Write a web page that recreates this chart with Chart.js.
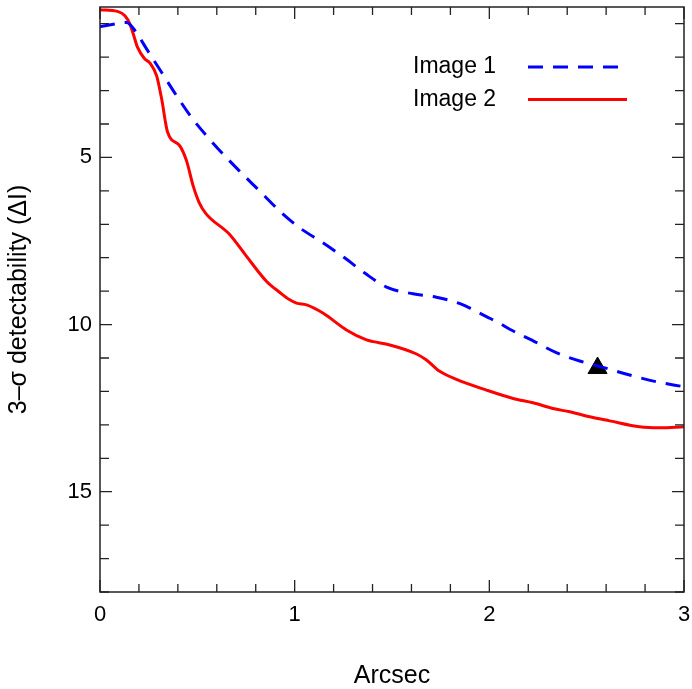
<!DOCTYPE html>
<html>
<head>
<meta charset="utf-8">
<script src="https://cdn.jsdelivr.net/npm/chart.js@4.4.1/dist/chart.umd.min.js"></script>
<style>
  html, body { margin: 0; padding: 0; background: #fff; }
  #wrap { width: 692px; height: 689px; }
</style>
</head>
<body>
<div id="wrap"><canvas id="chart" width="692" height="689"></canvas></div>
<script>
// data
let image1X = [0, 0.077, 0.137, 0.18, 0.24, 0.317, 0.394, 0.471, 0.556, 0.65, 0.838, 0.924, 1.027, 1.147, 1.258, 1.36, 1.472, 1.608, 1.728, 1.865, 1.917, 1.985, 2.053, 2.105, 2.216, 2.344, 2.464, 2.584, 2.721, 2.858, 3.0]
let image1Y = [1.09, 1.01, 0.96, 1.21, 1.76, 2.46, 3.16, 3.81, 4.41, 5.01, 6.11, 6.61, 7.11, 7.56, 8.01, 8.46, 8.88, 9.08, 9.18, 9.41, 9.56, 9.76, 9.96, 10.14, 10.46, 10.84, 11.09, 11.28, 11.51, 11.71, 11.86]

let image2X = [0, 0.09, 0.128, 0.154, 0.171, 0.193, 0.228, 0.257, 0.291, 0.317, 0.347, 0.411, 0.445, 0.479, 0.51, 0.544, 0.667, 0.753, 0.856, 0.924, 0.975, 1.01, 1.061, 1.147, 1.266, 1.369, 1.403, 1.489, 1.626, 1.677, 1.745, 1.831, 1.985, 2.122, 2.224, 2.327, 2.413, 2.533, 2.618, 2.772, 2.875, 3.0]
let image2Y = [0.58, 0.63, 0.76, 1.01, 1.31, 1.71, 2.04, 2.18, 2.56, 3.26, 4.24, 4.66, 5.11, 5.86, 6.36, 6.68, 7.31, 7.96, 8.71, 9.04, 9.26, 9.36, 9.41, 9.66, 10.16, 10.46, 10.51, 10.61, 10.88, 11.06, 11.4, 11.64, 11.96, 12.21, 12.34, 12.51, 12.61, 12.78, 12.88, 13.06, 13.09, 13.06]

let markerX = [2.556]
let markerY = [11.3]

let xTickLabels = [0, 1, 2, 3]
let yTickLabels = [5, 10, 15]

const fontFamily = '"Liberation Sans", Arial, Helvetica, sans-serif'

function toPoints(xs, ys){
    return xs.map((x, i) => ({x: x, y: ys[i]}))
}

// no extra room for edge labels, the plot box is fixed
function noEdgePadding(scale){
    scale.paddingTop = 0
    scale.paddingBottom = 0
    scale.paddingLeft = 0
    scale.paddingRight = 0
}

// inward ticks + frame, IDL style
const frameTicks = {
    id: 'frameTicks',
    afterDraw(chart){
        const ctx = chart.ctx
        const area = chart.chartArea
        const xs = chart.scales.x
        const ys = chart.scales.y
        ctx.save()
        ctx.strokeStyle = '#222'
        ctx.lineWidth = 1.5
        ctx.strokeRect(area.left, area.top, area.right - area.left, area.bottom - area.top)
        ctx.lineWidth = 1.3
        ctx.beginPath()
        xs.ticks.forEach(t => {
            const px = xs.getPixelForValue(t.value)
            const len = xTickLabels.includes(t.value) ? 12 : 8
            ctx.moveTo(px, area.bottom); ctx.lineTo(px, area.bottom - len)
            ctx.moveTo(px, area.top); ctx.lineTo(px, area.top + len)
        })
        ys.ticks.forEach(t => {
            const py = ys.getPixelForValue(t.value)
            const len = yTickLabels.includes(t.value) ? 12 : 9
            ctx.moveTo(area.left, py); ctx.lineTo(area.left + len, py)
            ctx.moveTo(area.right, py); ctx.lineTo(area.right - len, py)
        })
        ctx.stroke()
        ctx.restore()
    }
}

// legend inside the plot: text first, line sample after
const insideLegend = {
    id: 'insideLegend',
    afterDraw(chart){
        const ctx = chart.ctx
        ctx.save()
        ctx.font = '23px ' + fontFamily
        ctx.textBaseline = 'middle'
        ctx.fillStyle = '#000'
        const rows = [[67, 622], [99.5, 627]]
        chart.data.datasets.slice(0, 2).forEach((ds, i) => {
            const y = rows[i][0]
            ctx.fillText(ds.label, 413, y)
            ctx.strokeStyle = ds.borderColor
            ctx.lineWidth = ds.borderWidth
            ctx.setLineDash(ds.borderDash || [])
            ctx.beginPath()
            ctx.moveTo(528, y)
            ctx.lineTo(rows[i][1], y)
            ctx.stroke()
        })
        ctx.restore()
    }
}

new Chart(document.getElementById('chart'), {
    type: 'line',
    data: {
        datasets: [
            {
                label: 'Image 1',
                data: toPoints(image1X, image1Y),
                borderColor: '#0000ff',
                borderWidth: 3,
                borderDash: [15, 10],
                pointRadius: 0,
                cubicInterpolationMode: 'monotone',
                fill: false
            },
            {
                label: 'Image 2',
                data: toPoints(image2X, image2Y),
                borderColor: '#ff0000',
                borderWidth: 3,
                pointRadius: 0,
                cubicInterpolationMode: 'monotone',
                fill: false
            },
            {
                label: 'marker',
                data: toPoints(markerX, markerY),
                showLine: false,
                pointStyle: 'triangle',
                pointRadius: 11,
                backgroundColor: '#000',
                borderColor: '#000',
                borderWidth: 1
            }
        ]
    },
    options: {
        responsive: false,
        devicePixelRatio: 1,
        animation: false,
        layout: { autoPadding: false, padding: { top: 7, right: 8, left: 0, bottom: 0 } },
        plugins: {
            legend: { display: false },
            tooltip: { enabled: false }
        },
        scales: {
            x: {
                type: 'linear',
                min: 0,
                max: 3,
                afterBuildTicks: scale => {
                    let t = []
                    for (let i = 0; i <= 15; i++) t.push({value: i / 5})
                    scale.ticks = t
                },
                afterFit: scale => { scale.height = 97; noEdgePadding(scale) },
                grid: { display: false, drawTicks: false },
                border: { display: false },
                ticks: {
                    padding: 10,
                    maxRotation: 0,
                    autoSkip: false,
                    color: '#000',
                    font: { family: fontFamily, size: 22 },
                    callback: v => xTickLabels.includes(v) ? String(v) : ''
                },
                title: {
                    display: true,
                    text: 'Arcsec',
                    color: '#000',
                    padding: { top: 0, bottom: -2 },
                    font: { family: fontFamily, size: 25 }
                }
            },
            y: {
                type: 'linear',
                min: 0.5,
                max: 18,
                reverse: true,
                afterBuildTicks: scale => {
                    let t = []
                    for (let i = 1; i <= 18; i++) t.push({value: i})
                    scale.ticks = t
                },
                afterFit: scale => { scale.width = 100; noEdgePadding(scale) },
                grid: { display: false, drawTicks: false },
                border: { display: false },
                ticks: {
                    padding: 8,
                    autoSkip: false,
                    color: '#000',
                    font: { family: fontFamily, size: 22 },
                    callback: v => yTickLabels.includes(v) ? String(v) : ''
                },
                title: {
                    display: true,
                    text: '3\u2013\u03c3 detectability (\u0394I)',
                    color: '#000',
                    padding: { top: 4, bottom: 0 },
                    font: { family: fontFamily, size: 25 }
                }
            }
        }
    },
    plugins: [frameTicks, insideLegend]
});
</script>
</body>
</html>
